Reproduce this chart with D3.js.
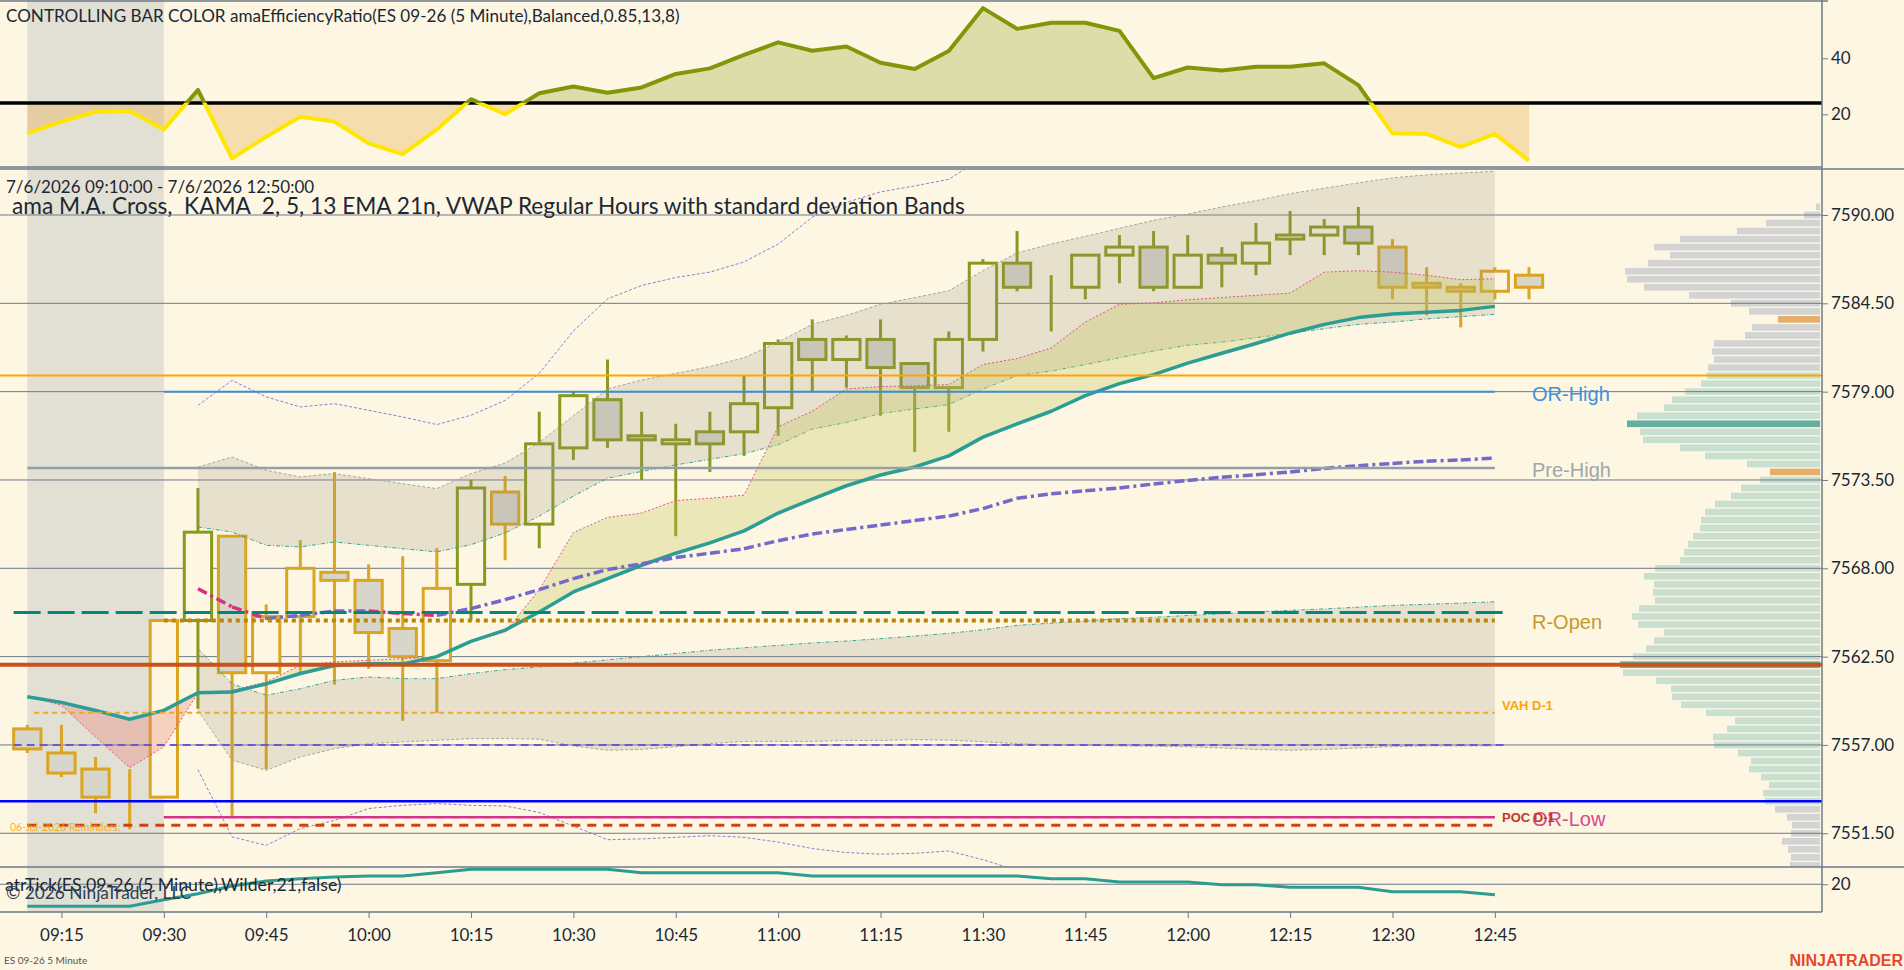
<!DOCTYPE html>
<html>
<head>
<meta charset="utf-8">
<script src="https://d3js.org/d3.v7.min.js"></script>
<style>
  body { margin: 0; background: #fdf6e3; overflow: hidden; }
  svg { display: block; }
  text { font-family: Lato, 'Noto Sans', sans-serif; fill: #1c2833; }
  .lbl { font-family: 'Liberation Sans', Arial, sans-serif; }
  .axis text { font-size: 17px; fill: #1c2833; }
  .axis line { stroke: #6c7a89; }
  .axis path { display: none; }
</style>
</head>
<body>
<svg width="1904" height="970"></svg>
<script>
// ---------- data ----------
const TIMES = ['09:10','09:15','09:20','09:25','09:30','09:35','09:40','09:45','09:50','09:55',
  '10:00','10:05','10:10','10:15','10:20','10:25','10:30','10:35','10:40','10:45','10:50','10:55',
  '11:00','11:05','11:10','11:15','11:20','11:25','11:30','11:35','11:40','11:45','11:50','11:55',
  '12:00','12:05','12:10','12:15','12:20','12:25','12:30','12:35','12:40','12:45','12:50'];

const OPEN = [7558.0,7556.5,7555.5,7553.75,7553.75,7564.75,7570.0,7561.5,7565.0,7567.75,
  7567.25,7564.25,7562.25,7567.0,7572.75,7570.75,7575.5,7578.5,7576.25,7575.75,7576.5,7576.5,
  7578.0,7582.25,7581.0,7582.25,7580.75,7579.25,7582.25,7587.0,7585.5,7585.5,7587.5,7588.0,
  7585.5,7587.5,7587.0,7588.5,7588.75,7589.25,7588.0,7585.75,7585.5,7585.25,7586.25];
const HIGH = [7558.25,7558.25,7556.25,7555.5,7564.75,7573.0,7570.0,7565.75,7569.75,7574.0,
  7568.25,7568.75,7569.25,7573.5,7573.75,7577.75,7579.0,7581.0,7577.75,7577.0,7577.75,7580.0,
  7582.25,7583.5,7582.5,7583.5,7580.75,7582.75,7587.25,7589.0,7586.25,7587.5,7588.75,7589.0,
  7588.75,7588.0,7589.5,7590.25,7589.75,7590.5,7588.5,7586.75,7585.75,7586.75,7586.75];
const LOW = [7556.5,7555.0,7552.75,7551.75,7553.75,7559.25,7552.5,7555.5,7561.5,7560.75,
  7561.75,7558.5,7559.0,7564.75,7568.5,7569.25,7574.75,7575.5,7573.5,7570.0,7574.0,7575.0,
  7576.25,7579.0,7579.25,7577.5,7575.25,7576.5,7581.5,7585.25,7582.75,7584.75,7585.75,7585.25,
  7585.5,7585.5,7586.25,7587.5,7587.5,7587.5,7584.75,7583.75,7583.0,7584.75,7584.75];
const CLOSE = [7556.75,7555.25,7553.75,7553.75,7564.75,7570.25,7561.5,7565.0,7568.0,7567.25,
  7564.0,7562.5,7566.75,7573.0,7570.75,7575.75,7578.75,7576.0,7576.0,7576.0,7575.75,7578.25,
  7582.0,7581.0,7582.25,7580.5,7579.25,7582.25,7587.0,7585.5,7585.5,7587.5,7588.0,7585.5,
  7587.5,7587.0,7588.25,7588.75,7589.25,7588.25,7585.5,7585.5,7585.25,7586.5,7585.5];

// efficiency ratio (top panel), bar colour switches above the threshold
const ER = [13.2,17.4,20.9,21.2,14.6,28.7,4.3,12.0,19.1,17.4,
  9.6,5.8,14.6,25.4,20.0,27.5,29.9,27.7,29.6,34.4,36.4,41.2,
  45.7,42.7,44.2,38.4,36.2,42.6,57.9,50.5,52.7,52.7,49.8,32.9,
  36.7,35.6,37.0,37.0,38.2,30.4,13.2,13.0,8.4,13.0,3.4];
const ER_THRESHOLD = 24;

const KAMA_SLOW = [7560.0,7559.65,7559.15,7558.6,7559.15,7560.25,7560.3,7560.8,7561.45,7561.95,
  7562.05,7562.05,7562.5,7563.45,7564.15,7565.28,7566.53,7567.36,7568.19,7568.94,7569.58,7570.33,
  7571.44,7572.31,7573.14,7573.81,7574.31,7575.0,7576.17,7577.0,7577.78,7578.75,7579.5,7580.06,
  7580.78,7581.39,7582.0,7582.64,7583.19,7583.61,7583.83,7583.94,7584.06,7584.31,null];
const KAMA_FAST = [7560.03,7559.47,7557.5,7555.59,7556.88,7560.24,7560.4,7560.92,7561.96,7562.17,
  7562.27,7562.37,7562.48,7563.45,7564.04,7566.67,7570.22,7571.17,7571.44,7572.22,7572.36,7572.56,
  7576.81,7577.78,7579.17,7579.31,7579.36,7579.44,7580.69,7581.06,7581.72,7583.33,7584.44,7584.53,
  7584.72,7584.86,7585.0,7585.14,7586.44,7586.53,7586.44,7586.25,7585.97,7586.03,null];

const VWAP = [null,null,null,null,null,7566.73,7565.6,7564.87,7565.07,7565.34,
  7565.34,7565.18,7565.07,7565.49,7566.05,7566.67,7567.36,7567.92,7568.28,7568.67,7568.94,7569.22,
  7569.72,7570.14,7570.42,7570.69,7570.97,7571.25,7571.72,7572.36,7572.64,7572.83,7573.0,7573.25,
  7573.47,7573.67,7573.83,7574.0,7574.22,7574.39,7574.53,7574.67,7574.75,7574.86,null];
const UPPER1 = [null,null,null,null,null,7570.57,7570.26,7569.43,7569.33,7569.64,
  7569.43,7569.22,7569.02,7569.47,7570.2,7571.25,7572.5,7573.61,7574.03,7574.44,7574.78,7575.14,
  7575.69,7576.67,7577.08,7577.64,7577.92,7578.19,7579.17,7580.0,7580.28,7580.69,7581.11,7581.53,
  7581.89,7582.08,7582.36,7582.64,7582.92,7583.19,7583.33,7583.53,7583.67,7583.81,null];
const UPPER2 = [null,null,null,null,null,7574.3,7574.93,7574.1,7573.69,7573.9,
  7573.58,7573.27,7572.96,7573.9,7574.55,7575.83,7577.5,7579.17,7579.72,7580.14,7580.56,7581.11,
  7582.08,7583.19,7583.75,7584.44,7584.86,7585.28,7586.53,7587.64,7588.19,7588.67,7589.17,7589.67,
  7590.06,7590.5,7590.89,7591.33,7591.67,7592.0,7592.31,7592.5,7592.61,7592.72,null];
const UPPER3 = [null,null,null,null,null,7578.15,7579.7,7578.67,7578.05,7578.25,
  7577.84,7577.42,7576.95,7577.53,7578.45,7580.14,7582.78,7584.78,7585.61,7586.11,7586.44,7587.08,
  7588.19,7589.86,7590.78,7591.44,7591.81,7592.22,7593.6,null,null,null,null,null,
  null,null,null,null,null,null,null,null,null,null,null];
const LOWER1 = [null,null,null,null,null,7563.0,7560.8,7560.1,7560.5,7561.03,
  7561.23,7561.13,7561.13,7561.44,7561.69,7561.85,7562.1,7562.3,7562.5,7562.7,7562.9,7563.05,
  7563.2,7563.35,7563.47,7563.62,7563.78,7563.95,7564.17,7564.45,7564.58,7564.72,7564.86,7564.95,
  7565.06,7565.17,7565.28,7565.38,7565.47,7565.58,7565.69,7565.76,7565.83,7565.92,null];
const LOWER2 = [null,null,null,null,null,7559.16,7556.05,7555.42,7556.25,7556.77,
  7557.08,7557.19,7557.29,7557.39,7557.4,7557.36,7556.94,7556.67,7556.72,7556.89,7557.08,7557.22,
  7557.22,7557.22,7557.28,7557.28,7557.33,7557.3,7557.2,7557.08,7557.0,7556.97,7556.94,7556.92,
  7556.89,7556.81,7556.72,7556.67,7556.72,7556.81,7556.89,7556.94,7556.94,7556.94,null];
const LOWER3 = [null,null,null,null,null,7555.46,7551.27,7550.75,7551.79,7552.3,
  7553.04,7553.24,7553.35,7553.24,7553.2,7552.8,7551.95,7551.1,7551.15,7551.25,7551.35,7551.25,
  7550.95,7550.55,7550.3,7550.2,7550.25,7550.4,7549.85,7549.2,null,null,null,null,
  null,null,null,null,null,null,null,null,null,null,null];

// atrTick panel
const ATR = [5.3,5.3,5.3,5.3,9.7,13.7,18.8,22.2,23.7,24.8,
  25.5,25.5,27.7,30.0,30.0,30.0,30.0,30.0,27.7,27.7,27.7,27.7,
  27.7,25.5,25.5,25.5,25.5,25.5,25.5,25.5,23.7,23.7,21.5,21.5,
  21.5,19.7,19.7,18.0,18.0,18.0,15.0,15.0,15.0,13.0,null];

// volume profile, one row per half point from the top row down
const PROFILE_TOP = 7590.5;
const PROFILE_STEP = 0.5;
const PROFILE_VOL = [4,16,54,83,140,166,150,172,195,193,
  176,131,89,71,42,68,75,106,108,106,
  112,113,119,135,148,156,183,193,180,177,
  140,115,73,50,60,79,89,105,115,119,
  120,127,132,136,140,165,176,166,167,165,
  181,188,182,156,166,174,187,200,197,164,
  149,148,139,114,85,93,107,106,82,69,
  71,59,51,57,55,45,33,28,29,38,
  32,29,30];
const VA_HIGH = 7580.0, VA_LOW = 7553.5;
const POC_PRICES = [7577.0, 7562.0];
const MARKED_PRICES = [7583.5, 7574.0];

// horizontal levels
const LEVEL_NAMES  = ['ON-High','OR-High','Pre-High','Settle','R-Open','Dev-POC','VAH D-1','VAL D-1','ON-Low','OR-Low','POC D-1'];
const LEVEL_PRICES = [7580.0, 7579.0, 7574.25, 7565.25, 7564.75, 7562.0, 7559.0, 7557.0, 7553.5, 7552.5, 7552.0];
const LEVEL_FROM   = [null,'09:30','09:10','09:08','09:30',null,'09:11','09:08',null,'09:30','09:10'];
const LEVEL_TO     = [null,'12:45','12:45','12:47','12:45',null,'12:45','12:47',null,'12:45','12:45'];
const LEVEL_LABELS = ['','OR-High','Pre-High','','R-Open','','VAH D-1','','','OR-Low','POC D-1'];

const SESSION_SHADE = ['09:10','09:30'];
const PRICE_TICKS = [7590, 7584.5, 7579, 7573.5, 7568, 7562.5, 7557, 7551.5];
const ER_TICKS = [20, 40];
const ATR_TICKS = [20];

// ---------- layout ----------
const BG = '#fdf6e3';
const PLOT_R = 1822;
const P1 = {top: 2, bottom: 167};
const P2 = {top: 169, bottom: 867};
const P3 = {top: 867, bottom: 912};

const parse = d3.timeParse('%H:%M');
const dates = TIMES.map(parse);
const x = d3.scaleTime().domain([dates[0], dates[dates.length - 1]]).range([27.3, 1529]);
const yER = d3.scaleLinear().domain([1.18, 60.1]).range([P1.bottom, P1.top]);
const yP = d3.scaleLinear().domain([7549.40, 7592.864]).range([P2.bottom, P2.top]);
const yA = d3.scaleLinear().domain([1.5, 31.5]).range([P3.bottom, P3.top]);

const svg = d3.select('svg');
const defs = svg.append('defs');
function clipRect(id, x0, y0, w, h) {
  defs.append('clipPath').attr('id', id).append('rect')
    .attr('x', x0).attr('y', y0).attr('width', w).attr('height', h);
}

svg.append('rect').attr('width', 1904).attr('height', 970).attr('fill', BG);

// session shading
svg.append('rect')
  .attr('x', x(parse(SESSION_SHADE[0]))).attr('y', 0)
  .attr('width', x(parse(SESSION_SHADE[1])) - x(parse(SESSION_SHADE[0])))
  .attr('height', P3.bottom).attr('fill', '#e2dfd4');

// ---------- top panel: efficiency ratio ----------
const g1 = svg.append('g');
const erPts = dates.map((t, i) => ({t, v: ER[i]}));
const thrY = yER(ER_THRESHOLD);
clipRect('erAbove', 0, P1.top, PLOT_R, thrY - P1.top);
clipRect('erBelow', 0, thrY, PLOT_R, P1.bottom - thrY);
const erArea = d3.area().x(d => x(d.t)).y0(thrY).y1(d => yER(d.v));
const erLine = d3.line().x(d => x(d.t)).y(d => yER(d.v));
g1.append('path').attr('d', erArea(erPts)).attr('fill', 'rgba(138,154,16,0.27)').attr('clip-path', 'url(#erAbove)');
g1.append('path').attr('d', erArea(erPts)).attr('fill', 'rgba(232,168,60,0.32)').attr('clip-path', 'url(#erBelow)');
g1.append('line').attr('x1', 0).attr('x2', PLOT_R).attr('y1', thrY).attr('y2', thrY)
  .attr('stroke', '#000').attr('stroke-width', 3.5);
g1.append('path').attr('d', erLine(erPts)).attr('fill', 'none').attr('stroke', '#82960a')
  .attr('stroke-width', 4).attr('stroke-linejoin', 'round').attr('clip-path', 'url(#erAbove)');
g1.append('path').attr('d', erLine(erPts)).attr('fill', 'none').attr('stroke', '#ffe600')
  .attr('stroke-width', 4).attr('stroke-linejoin', 'round').attr('clip-path', 'url(#erBelow)');

// ---------- price panel ----------
clipRect('pricePanel', 0, P2.top, PLOT_R, P2.bottom - P2.top);
const g2 = svg.append('g').attr('clip-path', 'url(#pricePanel)');

// volume profile
const VP_RIGHT = 1820;
const rowH = yP(PROFILE_TOP - PROFILE_STEP) - yP(PROFILE_TOP);
const vx = d3.scaleLinear().domain([0, 200]).range([0, 200]);
const rows = PROFILE_VOL.map((v, i) => ({p: PROFILE_TOP - i * PROFILE_STEP, v}));
g2.append('g').selectAll('rect').data(rows).join('rect')
  .attr('x', d => VP_RIGHT - vx(d.v)).attr('width', d => vx(d.v))
  .attr('y', d => yP(d.p) - rowH / 2 + 0.7).attr('height', rowH - 1.4)
  .attr('fill', d => POC_PRICES.includes(d.p) ? '#66aea2'
    : MARKED_PRICES.includes(d.p) ? '#e6ae6c'
    : (d.p <= VA_HIGH && d.p >= VA_LOW) ? '#c9e0d1' : '#d3d3d3');

// grid
g2.append('g').selectAll('line').data(PRICE_TICKS).join('line')
  .attr('x1', 0).attr('x2', PLOT_R).attr('y1', d => yP(d)).attr('y2', d => yP(d))
  .attr('stroke', '#6c7a89').attr('stroke-width', 1);

// candles
const bars = dates.map((t, i) => ({t, o: OPEN[i], h: HIGH[i], l: LOW[i], c: CLOSE[i], er: ER[i]}));
const step = x(dates[1]) - x(dates[0]);
const bw = step * 0.8;
const barColor = d => d.er > ER_THRESHOLD ? '#889a1c' : '#daa520';
const gC = g2.append('g');
gC.selectAll('line').data(bars).join('line')
  .attr('x1', d => x(d.t)).attr('x2', d => x(d.t))
  .attr('y1', d => yP(d.h)).attr('y2', d => yP(d.l))
  .attr('stroke', barColor).attr('stroke-width', 3);
gC.selectAll('rect').data(bars).join('rect')
  .attr('x', d => x(d.t) - bw / 2).attr('width', bw)
  .attr('y', d => yP(Math.max(d.o, d.c)))
  .attr('height', d => Math.abs(yP(d.o) - yP(d.c)))
  .attr('fill', d => d.c < d.o ? '#d8d5cb' : BG)
  .attr('stroke', barColor).attr('stroke-width', 3);

// VWAP bands
const band = dates.map((t, i) => ({t, vw: VWAP[i], u1: UPPER1[i], u2: UPPER2[i], u3: UPPER3[i],
  l1: LOWER1[i], l2: LOWER2[i], l3: LOWER3[i]}));
const bandIn = band.filter(d => d.u1 != null);
const bandFill = (a, b) => d3.area().x(d => x(d.t)).y0(d => yP(d[a])).y1(d => yP(d[b]));
g2.append('path').attr('d', bandFill('u1', 'u2')(bandIn)).attr('fill', 'rgba(150,144,125,0.22)');
g2.append('path').attr('d', bandFill('l1', 'l2')(bandIn)).attr('fill', 'rgba(150,144,125,0.22)');

function series(key, color, width, dash) {
  const ln = d3.line().defined(d => d[key] != null).x(d => x(d.t)).y(d => yP(d[key]));
  g2.append('path').attr('d', ln(band)).attr('fill', 'none')
    .attr('stroke', color).attr('stroke-width', width).attr('stroke-dasharray', dash);
}
series('u1', '#3aa898', 1, '4,2,1,2');
series('l1', '#3aa898', 1, '4,2,1,2');
series('u2', '#aaa69c', 1, '3,2');
series('l2', '#aaa69c', 1, '3,2');
series('u3', '#8880d0', 1, '3,2');
series('l3', '#8880d0', 1, '3,2');

// KAMA fast / slow with fill between
const kama = dates.map((t, i) => ({t, f: KAMA_FAST[i], s: KAMA_SLOW[i]})).filter(d => d.s != null);
defs.append('clipPath').attr('id', 'aboveSlow').append('path')
  .attr('d', d3.area().x(d => x(d.t)).y0(P2.top).y1(d => yP(d.s))(kama));
defs.append('clipPath').attr('id', 'belowSlow').append('path')
  .attr('d', d3.area().x(d => x(d.t)).y0(d => yP(d.s)).y1(P2.bottom)(kama));
const kFill = d3.area().x(d => x(d.t)).y0(d => yP(d.s)).y1(d => yP(d.f));
g2.append('path').attr('d', kFill(kama)).attr('fill', 'rgba(200,196,90,0.3)').attr('clip-path', 'url(#aboveSlow)');
g2.append('path').attr('d', kFill(kama)).attr('fill', 'rgba(235,120,105,0.3)').attr('clip-path', 'url(#belowSlow)');
g2.append('path').attr('d', d3.line().x(d => x(d.t)).y(d => yP(d.f))(kama))
  .attr('fill', 'none').attr('stroke', '#e0508a').attr('stroke-width', 1).attr('stroke-dasharray', '2,2');
g2.append('path').attr('d', d3.line().x(d => x(d.t)).y(d => yP(d.s))(kama))
  .attr('fill', 'none').attr('stroke', '#2a9d94').attr('stroke-width', 3.5).attr('stroke-linejoin', 'round');

// VWAP, pink while falling, purple while rising
const vw = band.filter(d => d.vw != null);
const segs = d3.pairs(vw);
g2.append('g').selectAll('line').data(segs).join('line')
  .attr('x1', d => x(d[0].t)).attr('y1', d => yP(d[0].vw))
  .attr('x2', d => x(d[1].t)).attr('y2', d => yP(d[1].vw))
  .attr('stroke', d => d[1].vw < d[0].vw ? '#d6337f' : '#7468c8')
  .attr('stroke-width', 3.5).attr('stroke-dasharray', '10,4,3,4');

// levels
const LEVEL_STYLE = {
  'ON-High':  {c: '#ffa500', w: 2,   dash: null},
  'OR-High':  {c: '#3b8ed0', w: 2,   dash: null},
  'Pre-High': {c: '#95a0a6', w: 2.5, dash: null},
  'Settle':   {c: '#00897b', w: 3,   dash: '27,7'},
  'R-Open':   {c: '#b8860b', w: 4,   dash: '4,4'},
  'Dev-POC':  {c: '#c8521e', w: 4,   dash: null},
  'VAH D-1':  {c: '#f5a623', w: 2,   dash: '5,4'},
  'VAL D-1':  {c: '#6a5acd', w: 2,   dash: '8,5'},
  'ON-Low':   {c: '#0000ff', w: 2.5, dash: null},
  'OR-Low':   {c: '#d63384', w: 2.5, dash: null},
  'POC D-1':  {c: '#cc4411', w: 3,   dash: '9,7'}
};
const levels = LEVEL_NAMES.map((n, i) => ({n, p: LEVEL_PRICES[i], from: LEVEL_FROM[i], to: LEVEL_TO[i], label: LEVEL_LABELS[i]}));
const gL = svg.append('g').attr('clip-path', 'url(#pricePanel)');
gL.selectAll('line').data(levels).join('line')
  .attr('x1', d => d.from ? x(parse(d.from)) : 0)
  .attr('x2', d => d.to ? x(parse(d.to)) : PLOT_R)
  .attr('y1', d => yP(d.p)).attr('y2', d => yP(d.p))
  .attr('stroke', d => LEVEL_STYLE[d.n].c).attr('stroke-width', d => LEVEL_STYLE[d.n].w)
  .attr('stroke-dasharray', d => LEVEL_STYLE[d.n].dash);

const BIG_LABEL = {'OR-High': '#4191d8', 'Pre-High': '#a0a6aa', 'R-Open': '#c49a2a', 'OR-Low': '#d64a8c'};
const SMALL_LABEL = {'VAH D-1': '#ffa500', 'POC D-1': '#c0392b'};
levels.filter(d => BIG_LABEL[d.label]).forEach(d => {
  svg.append('text').attr('class', 'lbl').attr('x', 1532).attr('y', yP(d.p) + 2)
    .attr('dominant-baseline', 'central').style('font-size', '20px').style('fill', BIG_LABEL[d.label])
    .text(d.label);
});
levels.filter(d => SMALL_LABEL[d.label]).forEach(d => {
  svg.append('text').attr('class', 'lbl').attr('x', 1502).attr('y', yP(d.p) - 7.5)
    .attr('dominant-baseline', 'central').style('font-size', '13px').style('font-weight', 'bold')
    .style('fill', SMALL_LABEL[d.label]).text(d.label);
});

svg.append('text').attr('x', 10).attr('y', 831).style('font-size', '10.5px')
  .style('fill', '#ffa500').style('opacity', 0.85).text('06-Jul-2026 Reminders:');

// ---------- ATR panel ----------
const atrPts = dates.map((t, i) => ({t, v: ATR[i]})).filter(d => d.v != null);
svg.append('g').selectAll('line').data(ATR_TICKS).join('line')
  .attr('x1', 0).attr('x2', PLOT_R).attr('y1', d => yA(d)).attr('y2', d => yA(d))
  .attr('stroke', '#6c7a89');
svg.append('path').attr('d', d3.line().x(d => x(d.t)).y(d => yA(d.v))(atrPts))
  .attr('fill', 'none').attr('stroke', '#2a9d8f').attr('stroke-width', 3);

// ---------- frame & axes ----------
const frame = svg.append('g').attr('stroke', '#6c7a89').attr('stroke-width', 1.5);
frame.append('line').attr('x1', 0).attr('x2', PLOT_R + 6).attr('y1', 1).attr('y2', 1);
frame.append('line').attr('x1', 0).attr('x2', PLOT_R).attr('y1', P1.bottom).attr('y2', P1.bottom);
frame.append('line').attr('x1', 0).attr('x2', 1904).attr('y1', P2.top).attr('y2', P2.top);
frame.append('line').attr('x1', 0).attr('x2', 1904).attr('y1', P2.bottom).attr('y2', P2.bottom);
frame.append('line').attr('x1', 0).attr('x2', PLOT_R).attr('y1', P3.bottom).attr('y2', P3.bottom);
frame.append('line').attr('x1', PLOT_R).attr('x2', PLOT_R).attr('y1', 0).attr('y2', P3.bottom);

svg.append('g').attr('class', 'axis').attr('transform', `translate(${PLOT_R},0)`)
  .call(d3.axisRight(yP).tickValues(PRICE_TICKS).tickFormat(d3.format('.2f')).tickSize(6).tickPadding(3));
svg.append('g').attr('class', 'axis').attr('transform', `translate(${PLOT_R},0)`)
  .call(d3.axisRight(yER).tickValues(ER_TICKS).tickSize(6).tickPadding(3));
svg.append('g').attr('class', 'axis').attr('transform', `translate(${PLOT_R},0)`)
  .call(d3.axisRight(yA).tickValues(ATR_TICKS).tickSize(6).tickPadding(3));
svg.append('g').attr('class', 'axis').attr('transform', `translate(0,${P3.bottom})`)
  .call(d3.axisBottom(x).ticks(d3.timeMinute.every(15)).tickFormat(d3.timeFormat('%H:%M'))
    .tickSize(6).tickPadding(11));

// ---------- texts ----------
svg.append('text').attr('x', 6).attr('y', 22).style('font-size', '17.1px')
  .text('CONTROLLING BAR COLOR amaEfficiencyRatio(ES 09-26 (5 Minute),Balanced,0.85,13,8)');
svg.append('text').attr('x', 6).attr('y', 193).style('font-size', '17px')
  .text('7/6/2026 09:10:00 - 7/6/2026 12:50:00');
svg.append('text').attr('x', 12).attr('y', 214).style('font-size', '22.7px').style('white-space', 'pre')
  .text('ama M.A. Cross,  KAMA  2, 5, 13 EMA 21n, VWAP Regular Hours with standard deviation Bands');
svg.append('text').attr('x', 5).attr('y', 891).style('font-size', '17.7px')
  .text('atrTick(ES 09-26 (5 Minute),Wilder,21,false)');
svg.append('text').attr('x', 6).attr('y', 899).style('font-size', '17.3px').style('fill', '#2c3e50')
  .text('© 2026 NinjaTrader, LLC');
svg.append('text').attr('x', 4).attr('y', 964).style('font-size', '10px').style('fill', '#555')
  .text('ES 09-26 5 Minute');
svg.append('text').attr('class', 'lbl').attr('x', 1903).attr('y', 966).attr('text-anchor', 'end')
  .style('font-size', '16px').style('font-weight', 'bold').style('fill', '#e5472b')
  .text('NINJATRADER');
</script>
</body>
</html>
